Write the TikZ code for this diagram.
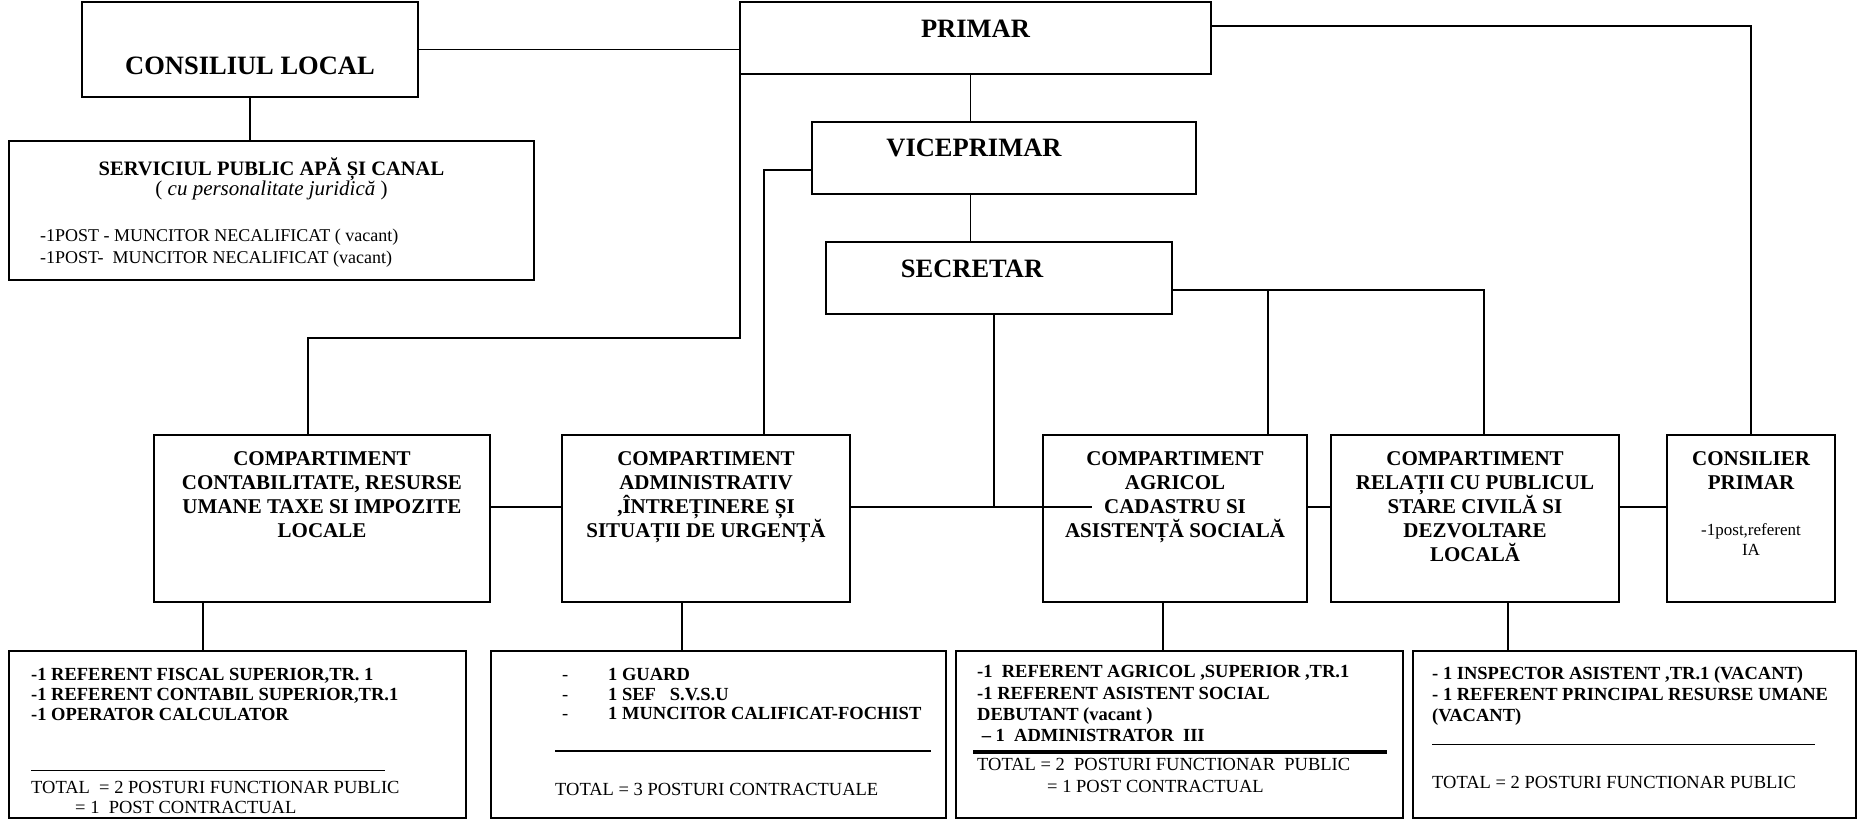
\documentclass[tikz,border=0pt]{standalone}
\usepackage{fontspec}
\setmainfont{Liberation Serif}
\usetikzlibrary{positioning}

\begin{document}
\begin{tikzpicture}[x=1pt, y=-1pt,
    caseta/.style={draw, line width=2pt, inner sep=0pt, outer sep=0pt, anchor=north west},
    legatura/.style={line width=1.8pt},
    titlu/.style={font=\bfseries\fontsize{26.5}{30}\selectfont, inner sep=0pt},
    compart/.style={font=\bfseries\fontsize{21}{24.2}\selectfont, align=center, inner sep=0pt},
    lista/.style={font=\bfseries\fontsize{18.5}{20}\selectfont, align=left, inner sep=0pt},
    totaltext/.style={font=\fontsize{18.5}{22}\selectfont, align=left, inner sep=0pt}]
    \useasboundingbox (0,0) rectangle (1859,819);

    % conducere
    \node[caseta, minimum width=336pt, minimum height=95pt] (consiliu) at (82,2) {};
    \node[caseta, minimum width=525pt, minimum height=139pt] (serviciu) at (9,141) {};
    \node[caseta, minimum width=471pt, minimum height=72pt] (primar) at (740,2) {};
    \node[caseta, minimum width=384pt, minimum height=72pt] (viceprimar) at (812,122) {};
    \node[caseta, minimum width=346pt, minimum height=72pt] (secretar) at (826,242) {};

    \node[titlu, below=55pt of consiliu.north] (tconsiliu) {CONSILIUL LOCAL};
    \node[titlu, below=18pt of primar.north] (tprimar) {PRIMAR};
    \node[titlu, below=17pt of viceprimar.north, xshift=-30pt] (tvice) {VICEPRIMAR};
    \node[titlu, below=18pt of secretar.north, xshift=-27pt] (tsecretar) {SECRETAR};

    \node[inner sep=0pt, font=\bfseries\fontsize{20.5}{24}\selectfont, below=17pt of serviciu.north] (tserviciu) {SERVICIUL PUBLIC APĂ ȘI CANAL};
    \node[inner sep=0pt, font=\fontsize{21}{24}\selectfont, below=40pt of serviciu.north] (tjuridic) {( \textit{cu personalitate juridică} )};
    \node[totaltext, font=\fontsize{18}{22}\selectfont, below right=88pt and 31pt of serviciu.north west] (lserviciu)
        {-1POST - MUNCITOR NECALIFICAT ( vacant)\\-1POST-~~MUNCITOR NECALIFICAT (vacant)};

    % compartimente
    \node[caseta, minimum width=336pt, minimum height=167pt] (contab) at (154,435) {};
    \node[caseta, minimum width=288pt, minimum height=167pt] (admin) at (562,435) {};
    \node[caseta, minimum width=264pt, minimum height=167pt] (agricol) at (1043,435) {};
    \node[caseta, minimum width=288pt, minimum height=167pt] (relatii) at (1331,435) {};
    \node[caseta, minimum width=168pt, minimum height=167pt] (consilier) at (1667,435) {};

    \node[compart, below=16pt of contab.north] (tcontab)
        {COMPARTIMENT\\CONTABILITATE, RESURSE\\UMANE TAXE SI IMPOZITE\\LOCALE};
    \node[compart, below=16pt of admin.north] (tadmin)
        {COMPARTIMENT\\ADMINISTRATIV\\,ÎNTREȚINERE ȘI\\SITUAȚII DE URGENȚĂ};
    \node[compart, below=16pt of agricol.north] (tagricol)
        {COMPARTIMENT\\AGRICOL\\CADASTRU SI\\ASISTENȚĂ SOCIALĂ};
    \node[compart, below=16pt of relatii.north] (trelatii)
        {COMPARTIMENT\\RELAȚII CU PUBLICUL\\STARE CIVILĂ SI\\DEZVOLTARE\\LOCALĂ};
    \node[compart, below=16pt of consilier.north] (tconsilier) {CONSILIER\\PRIMAR};
    \node[totaltext, align=center, font=\fontsize{17}{20}\selectfont, below=88pt of consilier.north] (pconsilier)
        {-1post,referent\\IA};

    % posturi
    \node[caseta, minimum width=457pt, minimum height=167pt] (post1) at (9,651) {};
    \node[caseta, minimum width=455pt, minimum height=167pt] (post2) at (491,651) {};
    \node[caseta, minimum width=447pt, minimum height=167pt] (post3) at (956,651) {};
    \node[caseta, minimum width=443pt, minimum height=167pt] (post4) at (1413,651) {};

    \node[lista, below right=17.5pt and 22pt of post1.north west] (lpost1)
        {-1 REFERENT FISCAL SUPERIOR,TR. 1\\-1 REFERENT CONTABIL SUPERIOR,TR.1\\-1 OPERATOR CALCULATOR};
    \draw[line width=0.9pt] (31,770) -- (385,770);
    \node[totaltext, below right=130pt and 22pt of post1.north west] (tpost1) {TOTAL~~= 2 POSTURI FUNCTIONAR PUBLIC};
    \begin{scope}
        \clip (0,0) rectangle (1859,814);
        \node[totaltext, below right=150pt and 66pt of post1.north west] (tpost1b) {= 1~~POST CONTRACTUAL};
    \end{scope}

    \node[lista, font=\fontsize{18.5}{19.5}\selectfont, below right=17.5pt and 71pt of post2.north west] (lpost2)
        {\makebox[46pt][l]{-}\textbf{1 GUARD}\\\makebox[46pt][l]{-}\textbf{1 SEF~~~S.V.S.U}\\\makebox[46pt][l]{-}\textbf{1 MUNCITOR CALIFICAT-FOCHIST}};
    \draw[line width=2pt] (555,751) -- (931,751);
    \node[totaltext, below right=132pt and 64pt of post2.north west] (tpost2) {TOTAL = 3 POSTURI CONTRACTUALE};

    \node[lista, font=\bfseries\fontsize{18.5}{21.3}\selectfont, below right=14.5pt and 21pt of post3.north west] (lpost3)
        {-1~~REFERENT AGRICOL ,SUPERIOR ,TR.1\\-1 REFERENT ASISTENT SOCIAL\\DEBUTANT (vacant )\\~– 1~~ADMINISTRATOR~~III};
    \draw[line width=3.5pt] (973,752) -- (1387,752);
    \node[totaltext, below right=107pt and 21pt of post3.north west] (tpost3)
        {TOTAL = 2~~POSTURI FUNCTIONAR~~PUBLIC\\\hspace*{70pt}= 1 POST CONTRACTUAL};

    \node[lista, font=\bfseries\fontsize{18.5}{21}\selectfont, below right=15pt and 19pt of post4.north west] (lpost4)
        {- 1 INSPECTOR ASISTENT ,TR.1 (VACANT)\\- 1 REFERENT PRINCIPAL RESURSE UMANE\\(VACANT)};
    \draw[line width=0.9pt] (1432,744) -- (1815,744);
    \node[totaltext, below right=125pt and 19pt of post4.north west] (tpost4) {TOTAL = 2 POSTURI FUNCTIONAR PUBLIC};

    % legaturi de sus
    \draw[legatura] (consiliu.east) -- (consiliu.east -| primar.west);
    \draw[legatura] (consiliu.south) -- (consiliu.south |- serviciu.north);
    \coordinate (v0) at ([xshift=-5pt]primar.south);
    \draw[legatura] (v0) -- (v0 |- viceprimar.north);
    \draw[legatura] (v0 |- viceprimar.south) -- (v0 |- secretar.north);
    \coordinate (p0) at ([yshift=12pt]primar.east);
    \draw[legatura] (p0) -| (consilier.north);
    \draw[legatura] (primar.south west) -- ++(0,264) -| ([xshift=-14pt]contab.north);
    \draw[legatura] ([yshift=-12pt]viceprimar.west) -| ([xshift=58pt]admin.north);
    \coordinate (s0) at ([yshift=-12pt]secretar.east);
    \draw[legatura] (s0) -| ([xshift=9pt]relatii.north);
    \coordinate (a0) at ([xshift=93pt]agricol.north);
    \draw[legatura] (a0) -- (a0 |- s0);

    % bara orizontala
    \coordinate (capat) at (1092,507);
    \draw[legatura] ([yshift=11.5pt]admin.east) -- (capat);
    \coordinate (s1) at ([xshift=-5pt]secretar.south);
    \draw[legatura] (s1) -- (s1 |- capat);
    \draw[legatura] ([yshift=11.5pt]contab.east) -- ([yshift=11.5pt]admin.west);
    \draw[legatura] ([yshift=11.5pt]agricol.east) -- ([yshift=11.5pt]relatii.west);
    \draw[legatura] ([yshift=11.5pt]relatii.east) -- ([yshift=11.5pt]consilier.west);

    % spre posturi
    \coordinate (c1) at ([xshift=-119pt]contab.south);
    \draw[legatura] (c1) -- (c1 |- post1.north);
    \coordinate (c2) at ([xshift=-24pt]admin.south);
    \draw[legatura] (c2) -- (c2 |- post2.north);
    \coordinate (c3) at ([xshift=-12pt]agricol.south);
    \draw[legatura] (c3) -- (c3 |- post3.north);
    \coordinate (c4) at ([xshift=33pt]relatii.south);
    \draw[legatura] (c4) -- (c4 |- post4.north);
\end{tikzpicture}
\end{document}
